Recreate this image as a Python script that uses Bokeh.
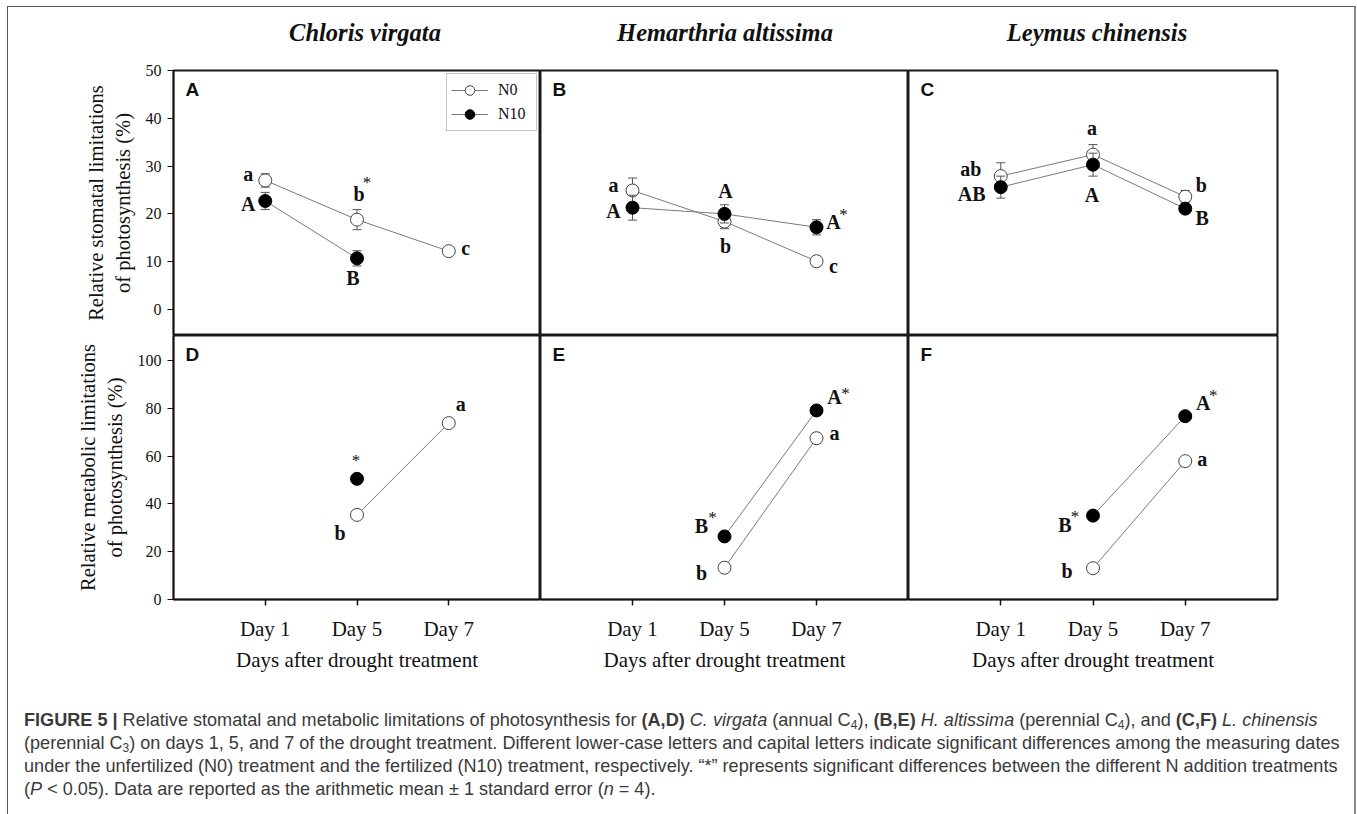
import numpy as np
from bokeh.plotting import figure
from bokeh.models import Range1d, FixedTicker, Div, Legend, LegendItem, ColumnDataSource
from bokeh.layouts import row, column
from bokeh.core.properties import value
from bokeh.embed import file_html
from bokeh.resources import INLINE

NA = float("nan")

# ---------------------------------------------------------------- data
days = ["Day 1", "Day 5", "Day 7"]
species = ["Chloris virgata", "Hemarthria altissima", "Leymus chinensis"]
panel_tags = ["A", "B", "C", "D", "E", "F"]
series_names = ["N0", "N10"]

# relative stomatal limitation of photosynthesis (%), mean and SE (n = 4)
cv_stom_n0 = [27.0, 18.8, 12.2]
cv_stom_n0_se = [1.4, 2.1, 0.8]
cv_stom_n10 = [22.7, 10.7, NA]
cv_stom_n10_se = [1.8, 1.6, NA]
ha_stom_n0 = [24.9, 18.4, 10.1]
ha_stom_n0_se = [2.6, 1.5, 0.7]
ha_stom_n10 = [21.3, 20.0, 17.2]
ha_stom_n10_se = [2.6, 1.9, 1.6]
lc_stom_n0 = [27.9, 32.4, 23.6]
lc_stom_n0_se = [2.8, 2.1, 1.3]
lc_stom_n10 = [25.6, 30.3, 21.1]
lc_stom_n10_se = [2.3, 2.4, 0.8]

# relative metabolic limitation of photosynthesis (%)
cv_meta_n0 = [NA, 35.4, 73.8]
cv_meta_n10 = [NA, 50.5, NA]
ha_meta_n0 = [NA, 13.3, 67.5]
ha_meta_n10 = [NA, 26.4, 79.1]
lc_meta_n0 = [NA, 13.1, 57.9]
lc_meta_n10 = [NA, 35.1, 76.7]

# significance letters per day; a trailing "*" marks an N0 vs N10 difference
cv_stom_n0_sig = ["a", "b*", "c"]
cv_stom_n10_sig = ["A", "B", ""]
ha_stom_n0_sig = ["a", "b", "c"]
ha_stom_n10_sig = ["A", "A", "A*"]
lc_stom_n0_sig = ["ab", "a", "b"]
lc_stom_n10_sig = ["AB", "A", "B"]
cv_meta_n0_sig = ["", "b", "a"]
cv_meta_n10_sig = ["", "*", ""]
ha_meta_n0_sig = ["", "b", "a"]
ha_meta_n10_sig = ["", "B*", "A*"]
lc_meta_n0_sig = ["", "b", "a"]
lc_meta_n10_sig = ["", "B*", "A*"]

stom_ticks = [0, 10, 20, 30, 40, 50]
meta_ticks = [0, 20, 40, 60, 80, 100]

stom_label = "Relative stomatal limitations\nof photosynthesis (%)"
meta_label = "Relative metabolic limitations\nof photosynthesis (%)"
x_label = "Days after drought treatment"

caption_lines = [
    "<b>FIGURE 5 |</b> Relative stomatal and metabolic limitations of photosynthesis for "
    "<b>(A,D)</b> <i>C. virgata</i> (annual C<sub>4</sub>), <b>(B,E)</b> <i>H. altissima</i> "
    "(perennial C<sub>4</sub>), and <b>(C,F)</b> <i>L. chinensis</i>",
    "(perennial C<sub>3</sub>) on days 1, 5, and 7 of the drought treatment. Different lower-case "
    "letters and capital letters indicate significant differences among the measuring dates",
    "under the unfertilized (N0) treatment and the fertilized (N10) treatment, respectively. "
    "\u201c*\u201d represents significant differences between the different N addition treatments",
    "(<i>P</i> &lt; 0.05). Data are reported as the arithmetic mean \u00b1 1 standard error (<i>n</i> = 4).",
]

# ---------------------------------------------------------------- styling
SERIF = "Liberation Serif"
SANS = "Liberation Sans"
INK = "#111111"
LINE = "#7a7a7a"
ERR = "#555555"
EDGE = "#444444"

# letter placement around each point: (dx, dy, star_dx, star_dy) in pixels, y downwards
place = {
    ("cv", "stom", "N0"): [(-17, -6, 0, 0), (2, -26, 10, -37), (17, -3, 0, 0)],
    ("cv", "stom", "N10"): [(-17, 3, 0, 0), (-4, 20, 0, 0), None],
    ("ha", "stom", "N0"): [(-19, -5, 0, 0), (1, 24, 0, 0), (17, 5, 0, 0)],
    ("ha", "stom", "N10"): [(-19, 3, 0, 0), (1, -23, 0, 0), (17, -5, 27, -13)],
    ("lc", "stom", "N0"): [(-30, -7, 0, 0), (-1, -27, 0, 0), (16, -12, 0, 0)],
    ("lc", "stom", "N10"): [(-29, 7, 0, 0), (-1, 30, 0, 0), (17, 9, 0, 0)],
    ("cv", "meta", "N0"): [None, (-17, 18, 0, 0), (12, -19, 0, 0)],
    ("cv", "meta", "N10"): [None, (0, 0, -1, -18), None],
    ("ha", "meta", "N0"): [None, (-23, 5, 0, 0), (18, -5, 0, 0)],
    ("ha", "meta", "N10"): [None, (-23, -10, -12, -19), (18, -13, 29, -17)],
    ("lc", "meta", "N0"): [None, (-26, 3, 0, 0), (17, -2, 0, 0)],
    ("lc", "meta", "N10"): [None, (-28, 9, -18, 1), (18, -13, 28, -21)],
}

day_pos = [i + 1 for i in range(len(days))]

FRAME_W = [367, 368, 369]
TOP_H, BOT_H = 265, 264
LEFT_B, RIGHT_B, TOP_B, BOTTOM_B = 165, 77, 12, 80
HEAD_H = 51                      # band holding the species names
TITLE_CX = [357, 717, 1089]      # centre of each species name inside the band
TITLE_CY = 26


def arr(v):
    return np.array(v, dtype=float)


def add_series(p, key, vals, se, sig, filled):
    src = ColumnDataSource(dict(x=day_pos, y=arr(vals)))
    ln = p.line("x", "y", source=src, line_color=LINE, line_width=1)
    if se is not None:
        lo = arr(vals) - arr(se)
        hi = arr(vals) + arr(se)
        esrc = ColumnDataSource(dict(x=day_pos, lo=lo, hi=hi))
        p.segment(x0="x", y0="lo", x1="x", y1="hi", source=esrc, line_color=ERR, line_width=1)
        p.scatter("x", "lo", source=esrc, marker="dash", size=9, line_color=ERR, line_width=1)
        p.scatter("x", "hi", source=esrc, marker="dash", size=9, line_color=ERR, line_width=1)
    dots = p.scatter("x", "y", source=src, marker="circle", size=13,
                     fill_color="black" if filled else "white",
                     line_color="black" if filled else EDGE, line_width=1)
    for i, s in enumerate(sig):
        if not s:
            continue
        dx, dy, sdx, sdy = place[key][i]
        letter = s.rstrip("*")
        if letter:
            p.text(x=[day_pos[i]], y=[vals[i]], text=[letter], x_offset=dx, y_offset=dy,
                   text_font=value(SERIF), text_font_style="bold", text_font_size="20px",
                   text_align="center", text_baseline="middle", text_color=INK)
        if s.endswith("*"):
            p.text(x=[day_pos[i]], y=[vals[i]], text=["*"], x_offset=sdx, y_offset=sdy,
                   text_font=value(SERIF), text_font_size="17px",
                   text_align="center", text_baseline="middle", text_color=INK)
    return ln, dots


def make_panel(col, top_row, tag, sp, n0, n0_se, n0_sig, n10, n10_se, n10_sig):
    yr = Range1d(-5.44, 50) if top_row else Range1d(0, 110.46)
    xr = Range1d(0, len(days) + 1)
    p = figure(
        x_range=xr, y_range=yr,
        frame_width=FRAME_W[col], frame_height=TOP_H if top_row else BOT_H,
        min_border_left=LEFT_B if col == 0 else 0,
        min_border_right=RIGHT_B if col == 2 else 0,
        min_border_top=TOP_B if top_row else 0,
        min_border_bottom=0 if top_row else BOTTOM_B,
        x_axis_location=None if top_row else "below",
        y_axis_location="left" if col == 0 else None,
        output_backend="svg", toolbar_location=None,
        background_fill_color="white", border_fill_color="white",
    )
    p.grid.visible = False
    p.outline_line_color = "#1a1a1a"
    p.outline_line_width = 2

    if col == 0:
        ax = p.yaxis[0]
        ax.ticker = FixedTicker(ticks=stom_ticks if top_row else meta_ticks)
        ax.major_tick_out = 6
        ax.major_tick_in = 0
        ax.minor_tick_out = 0
        ax.minor_tick_in = 0
        ax.major_tick_line_color = INK
        ax.axis_line_color = INK
        ax.axis_line_width = 1.5
        ax.major_label_text_font = SERIF
        ax.major_label_text_font_size = "16px"
        ax.major_label_text_color = INK
        ax.major_label_standoff = 6
        ax.axis_label = stom_label if top_row else meta_label
        ax.axis_label_text_font = SERIF
        ax.axis_label_text_font_size = "20.5px"
        ax.axis_label_text_font_style = "normal"
        ax.axis_label_text_color = INK
        ax.axis_label_standoff = 9

    if not top_row:
        ax = p.xaxis[0]
        ax.ticker = FixedTicker(ticks=day_pos)
        ax.major_label_overrides = {pos: d for pos, d in zip(day_pos, days)}
        ax.major_tick_out = 6
        ax.major_tick_in = 0
        ax.minor_tick_out = 0
        ax.minor_tick_in = 0
        ax.major_tick_line_color = INK
        ax.major_tick_line_width = 1.5
        ax.axis_line_color = INK
        ax.axis_line_width = 1.5
        ax.major_label_text_font = SERIF
        ax.major_label_text_font_size = "21px"
        ax.major_label_text_color = INK
        ax.major_label_standoff = 11
        ax.axis_label = x_label
        ax.axis_label_text_font = SERIF
        ax.axis_label_text_font_size = "21px"
        ax.axis_label_text_font_style = "normal"
        ax.axis_label_text_color = INK
        ax.axis_label_standoff = 4

    # panel tag in the upper-left corner
    p.text(x=[xr.start], y=[yr.end], text=[tag], x_offset=12, y_offset=8,
           text_font=value(SANS), text_font_style="bold", text_font_size="19px",
           text_align="left", text_baseline="top", text_color=INK)

    kind = "stom" if top_row else "meta"
    l0, m0 = add_series(p, (sp, kind, "N0"), n0, n0_se, n0_sig, filled=False)
    l1, m1 = add_series(p, (sp, kind, "N10"), n10, n10_se, n10_sig, filled=True)

    if top_row and col == 0:
        leg = Legend(items=[LegendItem(label=series_names[0], renderers=[l0, m0]),
                            LegendItem(label=series_names[1], renderers=[l1, m1])],
                     location="top_right")
        leg.label_text_font = SERIF
        leg.label_text_font_size = "16px"
        leg.label_text_color = INK
        leg.border_line_color = "#8c8c8c"
        leg.border_line_width = 1
        leg.padding = 4
        leg.spacing = -4
        leg.glyph_width = 37
        leg.glyph_height = 24
        leg.label_standoff = 10
        leg.label_width = 34
        leg.margin = 3
        leg.background_fill_alpha = 1
        p.add_layout(leg)
    return p


pA = make_panel(0, True, panel_tags[0], "cv", cv_stom_n0, cv_stom_n0_se, cv_stom_n0_sig,
                cv_stom_n10, cv_stom_n10_se, cv_stom_n10_sig)
pB = make_panel(1, True, panel_tags[1], "ha", ha_stom_n0, ha_stom_n0_se, ha_stom_n0_sig,
                ha_stom_n10, ha_stom_n10_se, ha_stom_n10_sig)
pC = make_panel(2, True, panel_tags[2], "lc", lc_stom_n0, lc_stom_n0_se, lc_stom_n0_sig,
                lc_stom_n10, lc_stom_n10_se, lc_stom_n10_sig)
pD = make_panel(0, False, panel_tags[3], "cv", cv_meta_n0, None, cv_meta_n0_sig,
                cv_meta_n10, None, cv_meta_n10_sig)
pE = make_panel(1, False, panel_tags[4], "ha", ha_meta_n0, None, ha_meta_n0_sig,
                ha_meta_n10, None, ha_meta_n10_sig)
pF = make_panel(2, False, panel_tags[5], "lc", lc_meta_n0, None, lc_meta_n0_sig,
                lc_meta_n10, None, lc_meta_n10_sig)

# species names above the three columns
head_spans = "".join(
    f'<div style="position:absolute;left:{cx}px;top:{TITLE_CY}px;'
    f'transform:translate(-50%,-50%);white-space:nowrap;">{name}</div>'
    for cx, name in zip(TITLE_CX, species)
)
header = Div(
    text=(f'<div style="position:relative;height:{HEAD_H}px;font-family:\'{SERIF}\';'
          f'font-size:24.5px;font-weight:bold;font-style:italic;line-height:1;color:{INK};">'
          f'{head_spans}</div>'),
    width=1346, height=HEAD_H, margin=0,
)

sub_css = "font-size:12px;vertical-align:-3px;line-height:0"
cap_html = "<br>".join(caption_lines).replace("<sub>", f'<sub style="{sub_css}">')
caption = Div(
    text=(f'<div style="font-family:\'{SANS}\';font-size:18.1px;line-height:23px;color:#3a3a3a;'
          f'white-space:nowrap;padding:30px 0 0 16px;">{cap_html}</div>'),
    width=1346, height=140, margin=0,
)

root = column(
    header,
    row(pA, pB, pC, spacing=0),
    row(pD, pE, pF, spacing=0),
    caption,
    spacing=0,
    margin=(6, 0, 0, 7),
    styles={"border-left": "1px solid #5a5a5a", "border-top": "1px solid #5a5a5a",
            "border-right": "2px solid #8a8a8a", "border-bottom": "1px solid #5a5a5a"},
)

with open("out.html", "w") as f:
    f.write(file_html(root, INLINE))
